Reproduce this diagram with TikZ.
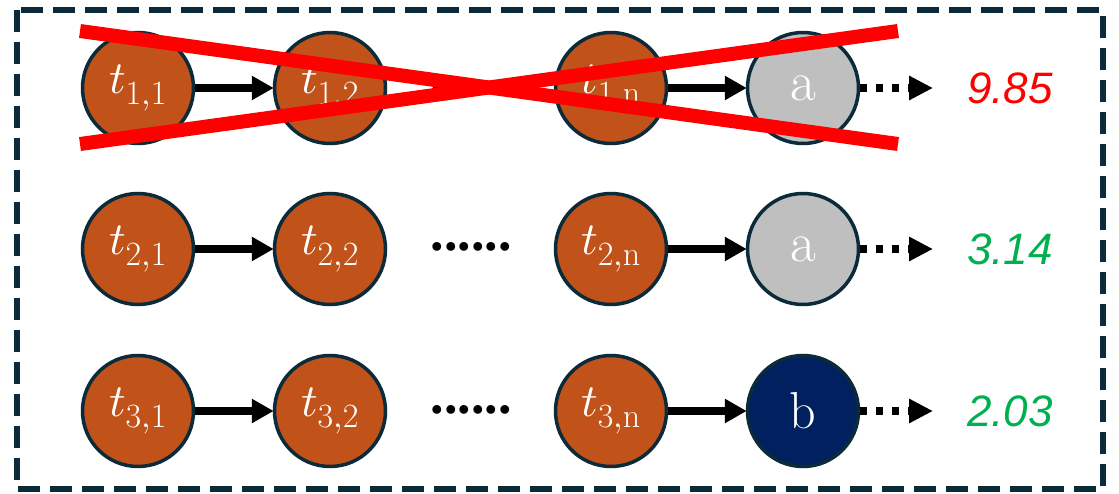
\documentclass[tikz,border=0pt]{standalone}
\usepackage{fontspec}
\usepackage{unicode-math}
\setmathfont{Latin Modern Math}
\DeclareMathSizes{46}{46}{34}{26}
\usetikzlibrary{arrows.meta}
\newfontfamily\numfont{Liberation Sans}
\newfontfamily\dotfont{Liberation Serif}
\definecolor{tokfill}{HTML}{C0521A}
\definecolor{greyfill}{HTML}{BFBFBF}
\definecolor{navyfill}{HTML}{002060}
\definecolor{rim}{HTML}{0B2A3A}
\definecolor{crossred}{HTML}{FF0000}
\definecolor{goodgreen}{HTML}{00B050}
\tikzset{
  tok/.style={circle, draw=rim, line width=3.5pt, minimum size=111pt, inner sep=0pt,
              text=white, font=\fontsize{46}{46}\selectfont},
  tokA/.style={tok, fill=tokfill},
  tokG/.style={tok, fill=greyfill, font=\fontsize{56}{56}\selectfont},
  tokB/.style={tok, fill=navyfill, font=\fontsize{52}{52}\selectfont},
  link/.style={line width=8pt, -{Triangle[length=22pt, width=23pt]}, shorten >=-1pt},
  scorelink/.style={line width=8pt, dash pattern=on 7pt off 9pt,
                    -{Triangle[length=24pt, width=23pt]}},
  score/.style={font=\numfont\itshape\fontsize{44}{44}\selectfont},
  ellips/.style={font=\dotfont\bfseries\fontsize{54}{54}\selectfont, anchor=base, inner sep=0pt},
  frame/.style={draw=rim, line width=6pt, dash pattern=on 22pt off 10pt},
  cross/.style={draw=crossred, line width=14pt}
}
\begin{document}
\begin{tikzpicture}[x=1pt, y=-1pt]
\useasboundingbox (0,0) rectangle (1119,494);
\draw[frame] (17,10) rectangle (1103,489);

% three rows of token chains
\foreach \r/\y/\last/\lstyle/\col in {1/88/a/tokG/crossred, 2/249/a/tokG/goodgreen, 3/411/b/tokB/goodgreen}{
  \node[tokA] (t\r1) at (138,\y) {$t_{\mathrm{\r,1}}$};
  \node[tokA] (t\r2) at (330,\y) {$t_{\mathrm{\r,2}}$};
  \node[ellips] (dots\r) at (471,\y+2) {......};
  \node[tokA] (t\r n) at (611,\y) {$t_{\mathrm{\r,n}}$};
  \node[\lstyle] (e\r) at (803,\y) {\last};
  \coordinate (tip\r) at (933,\y);
  \node[score, text=\col] (s\r) at (1010,\y) {};
  \draw[link] (t\r1) -- (t\r2);
  \draw[link] (t\r n) -- (e\r);
  \draw[scorelink] (e\r.east) -- (tip\r);
}
\node[score, text=crossred] at (s1) {9.85};
\node[score, text=goodgreen] at (s2) {3.14};
\node[score, text=goodgreen] at (s3) {2.03};

% first chain struck out
\coordinate (xa) at (80,31);
\coordinate (xb) at (898,144);
\coordinate (xc) at (80,144);
\coordinate (xd) at (898,31);
\draw[cross] (xa) -- (xb);
\draw[cross] (xc) -- (xd);
\end{tikzpicture}
\end{document}
